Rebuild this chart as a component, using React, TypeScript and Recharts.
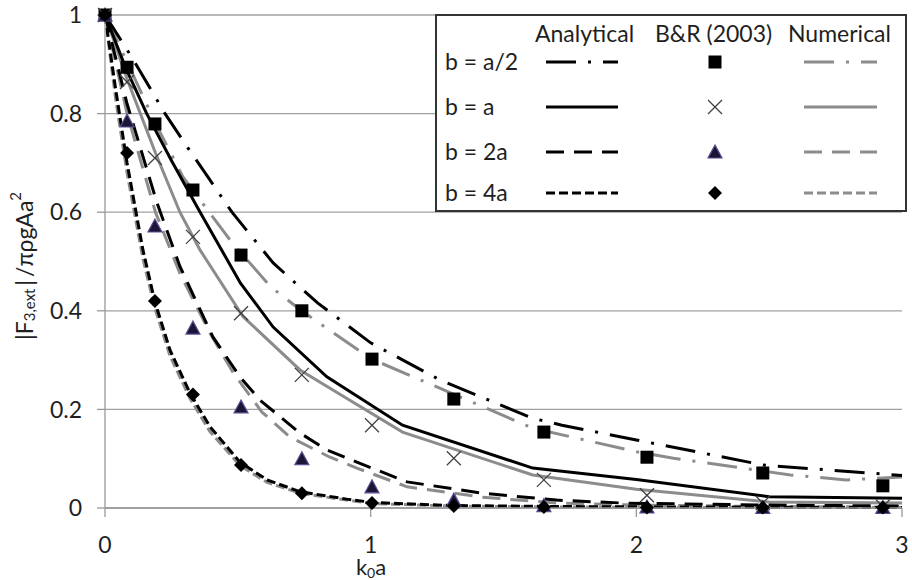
import React from "react";
import { ComposedChart, Line, Scatter, XAxis, YAxis, CartesianGrid } from "recharts";

// B&R (2003) markers
const brX = [0, 0.083, 0.188, 0.331, 0.512, 0.741, 1.005, 1.313, 1.652, 2.04, 2.476, 2.928];
const brHalf = [1, 0.894, 0.779, 0.645, 0.513, 0.4, 0.302, 0.221, 0.154, 0.103, 0.071, 0.045];
const brOne = [1, 0.864, 0.71, 0.55, 0.395, 0.27, 0.168, 0.101, 0.057, 0.026, 0.01, 0.003];
const brTwo = [1, 0.785, 0.572, 0.365, 0.205, 0.1, 0.043, 0.016, 0.005, 0.002, 0.001, 0.001];
const brFour = [1, 0.72, 0.42, 0.23, 0.087, 0.03, 0.01, 0.004, 0.002, 0.001, 0.001, 0.001];

// analytical curves
const anaHalfX = [0, 0.1, 0.226, 0.3, 0.478, 0.633, 0.8, 1.0, 1.26, 1.61, 1.72, 2.0, 2.48, 3.0];
const anaHalfY = [1, 0.915, 0.8, 0.74, 0.6, 0.497, 0.416, 0.335, 0.26, 0.182, 0.168, 0.138, 0.087, 0.066];
const anaOneX = [0, 0.08, 0.157, 0.25, 0.358, 0.51, 0.633, 0.835, 1.12, 1.61, 2.0, 2.5, 3.0];
const anaOneY = [1, 0.89, 0.8, 0.705, 0.6, 0.456, 0.367, 0.266, 0.168, 0.081, 0.058, 0.023, 0.02];
const anaTwoX = [0, 0.083, 0.195, 0.282, 0.346, 0.406, 0.508, 0.583, 0.734, 0.835, 0.948, 1.137, 1.42, 1.7, 1.95, 2.5, 3.0];
const anaTwoY = [1, 0.82, 0.62, 0.49, 0.416, 0.347, 0.266, 0.219, 0.152, 0.118, 0.093, 0.053, 0.03, 0.016, 0.01, 0.006, 0.004];
const anaFourX = [0, 0.04, 0.083, 0.143, 0.188, 0.245, 0.32, 0.395, 0.508, 0.61, 0.734, 0.91, 1.01, 1.3, 1.7, 2.2, 3.0];
const anaFourY = [1, 0.85, 0.7, 0.523, 0.418, 0.32, 0.233, 0.165, 0.093, 0.057, 0.033, 0.018, 0.011, 0.005, 0.003, 0.002, 0.001];

// numerical curves
const numHalfX = [0, 0.1, 0.19, 0.294, 0.395, 0.48, 0.625, 0.74, 0.86, 1.0, 1.26, 1.61, 2.0, 2.14, 2.58, 2.79, 3.0];
const numHalfY = [1, 0.885, 0.78, 0.671, 0.598, 0.537, 0.448, 0.4, 0.355, 0.303, 0.243, 0.162, 0.114, 0.101, 0.067, 0.057, 0.063];
const numOneX = [0, 0.083, 0.19, 0.282, 0.358, 0.52, 0.734, 0.92, 1.12, 1.61, 2.0, 2.5, 3.0];
const numOneY = [1, 0.87, 0.72, 0.6, 0.523, 0.388, 0.28, 0.219, 0.154, 0.067, 0.038, 0.012, 0.01];
const numTwoX = [0, 0.083, 0.19, 0.282, 0.395, 0.482, 0.59, 0.696, 0.847, 0.948, 1.137, 1.42, 1.7, 2.0, 2.5, 3.0];
const numTwoY = [1, 0.8, 0.6, 0.476, 0.355, 0.275, 0.195, 0.144, 0.103, 0.081, 0.043, 0.022, 0.01, 0.006, 0.003, 0.002];
const numFourX = anaFourX;
const numFourY = [1, 0.83, 0.68, 0.505, 0.405, 0.308, 0.222, 0.155, 0.086, 0.052, 0.03, 0.016, 0.009, 0.004, 0.002, 0.001, 0.001];

const xTicks = [0, 1, 2, 3];
const yTicks = [0, 0.2, 0.4, 0.6, 0.8, 1];
const rowLabels = ["b = a/2", "b = a", "b = 2a", "b = 4a"];

const pts = (xs: number[], ys: number[]) => xs.map((x, i) => ({ x, y: ys[i] }));

const FONT = "Lato, 'Open Sans', sans-serif";
const TXT = "#1f1f1f";
const GRAY = "#8c8c8c";
const DASH = ["30 12 3 12", undefined, "18 10", "9 4"];

const Square = (p: any) => <rect x={p.cx - 6.5} y={p.cy - 6.5} width={13} height={13} fill="#000" />;
const Cross = (p: any) => (
  <g stroke="#404040" strokeWidth={1.3}>
    <line x1={p.cx - 7} y1={p.cy - 7} x2={p.cx + 7} y2={p.cy + 7} />
    <line x1={p.cx - 7} y1={p.cy + 7} x2={p.cx + 7} y2={p.cy - 7} />
  </g>
);
const Tri = (p: any) => (
  <polygon
    points={`${p.cx},${p.cy - 7} ${p.cx - 7},${p.cy + 6} ${p.cx + 7},${p.cy + 6}`}
    fill="#1c1536"
    stroke="#5c4d91"
    strokeWidth={1.2}
  />
);
const Diamond = (p: any) => (
  <polygon points={`${p.cx},${p.cy - 7} ${p.cx + 7},${p.cy} ${p.cx},${p.cy + 7} ${p.cx - 7},${p.cy}`} fill="#000" />
);
const shapes = [Square, Cross, Tri, Diamond];

function LegendBox() {
  const rowsY = [56, 101, 146, 187];
  return (
    <svg
      width={472}
      height={198}
      style={{ position: "absolute", left: 435, top: 14, background: "#fff" }}
      fontFamily={FONT}
      fontSize={23}
    >
      <rect x={1} y={1} width={470} height={196} fill="#fff" stroke="#333" strokeWidth={2} />
      <text x={100} y={28} fill={TXT}>Analytical</text>
      <text x={220} y={28} fill={TXT}>B&amp;R (2003)</text>
      <text x={353} y={28} fill={TXT}>Numerical</text>
      {rowLabels.map((r, i) => {
        const cy = rowsY[i] - 8;
        const S = shapes[i];
        return (
          <g key={r}>
            <text x={10} y={rowsY[i]} fill={TXT}>{r}</text>
            <line x1={111} x2={183} y1={cy} y2={cy} stroke="#000" strokeWidth={3} strokeDasharray={DASH[i]} />
            <S cx={280} cy={cy} />
            <line x1={369} x2={442} y1={cy} y2={cy} stroke={GRAY} strokeWidth={3} strokeDasharray={DASH[i]} />
          </g>
        );
      })}
    </svg>
  );
}

const YLabel = () => (
  <text
    x={24}
    y={266}
    transform="rotate(-90, 24, 266)"
    textAnchor="middle"
    dominantBaseline="central"
    fontFamily={FONT}
    fontSize={23}
    fill={TXT}
  >
    |F
    <tspan dy={5} fontSize={15}>3,ext</tspan>
    <tspan dy={-5}>{"\u2009|\u2009/πρgAa"}</tspan>
    <tspan dy={-9} fontSize={15}>2</tspan>
  </text>
);

const XLabel = () => (
  <text x={371} y={575} textAnchor="middle" fontFamily={FONT} fontSize={22} fill={TXT}>
    k<tspan dy={3} fontSize={14}>0</tspan>
    <tspan dy={-3}>a</tspan>
  </text>
);

export default function App() {
  const ana = [pts(anaHalfX, anaHalfY), pts(anaOneX, anaOneY), pts(anaTwoX, anaTwoY), pts(anaFourX, anaFourY)];
  const num = [pts(numHalfX, numHalfY), pts(numOneX, numOneY), pts(numTwoX, numTwoY), pts(numFourX, numFourY)];
  const br = [pts(brX, brHalf), pts(brX, brOne), pts(brX, brTwo), pts(brX, brFour)];
  const tick = { fontFamily: FONT, fontSize: 23, fill: TXT };

  return (
    <div style={{ position: "absolute", left: 0, top: 0, width: 912, height: 580, background: "#fff" }}>
      <ComposedChart width={912} height={580} margin={{ top: 15, right: 10, left: 20, bottom: 22 }}>
        <CartesianGrid vertical={false} stroke="#a0a0a0" strokeWidth={1.3} />
        <XAxis
          type="number"
          dataKey="x"
          domain={[0, 3]}
          ticks={xTicks}
          height={50}
          stroke="#999"
          strokeWidth={1.3}
          tickSize={9}
          tickMargin={20}
          tick={tick}
          label={<XLabel />}
        />
        <YAxis
          type="number"
          dataKey="y"
          domain={[0, 1]}
          ticks={yTicks}
          width={85}
          stroke="#999"
          strokeWidth={1.3}
          tickSize={8}
          tickMargin={15}
          tick={tick}
          label={<YLabel />}
        />
        {num.map((d, i) => (
          <Line
            key={"n" + i}
            data={d}
            dataKey="y"
            type="linear"
            stroke={GRAY}
            strokeWidth={3}
            strokeDasharray={DASH[i]}
            dot={false}
            activeDot={false}
            isAnimationActive={false}
          />
        ))}
        {ana.map((d, i) => (
          <Line
            key={"a" + i}
            data={d}
            dataKey="y"
            type="linear"
            stroke="#000"
            strokeWidth={3}
            strokeDasharray={DASH[i]}
            dot={false}
            activeDot={false}
            isAnimationActive={false}
          />
        ))}
        {br.map((d, i) => (
          <Scatter key={"b" + i} data={d} dataKey="y" shape={shapes[i]} isAnimationActive={false} />
        ))}
      </ComposedChart>
      <LegendBox />
    </div>
  );
}
